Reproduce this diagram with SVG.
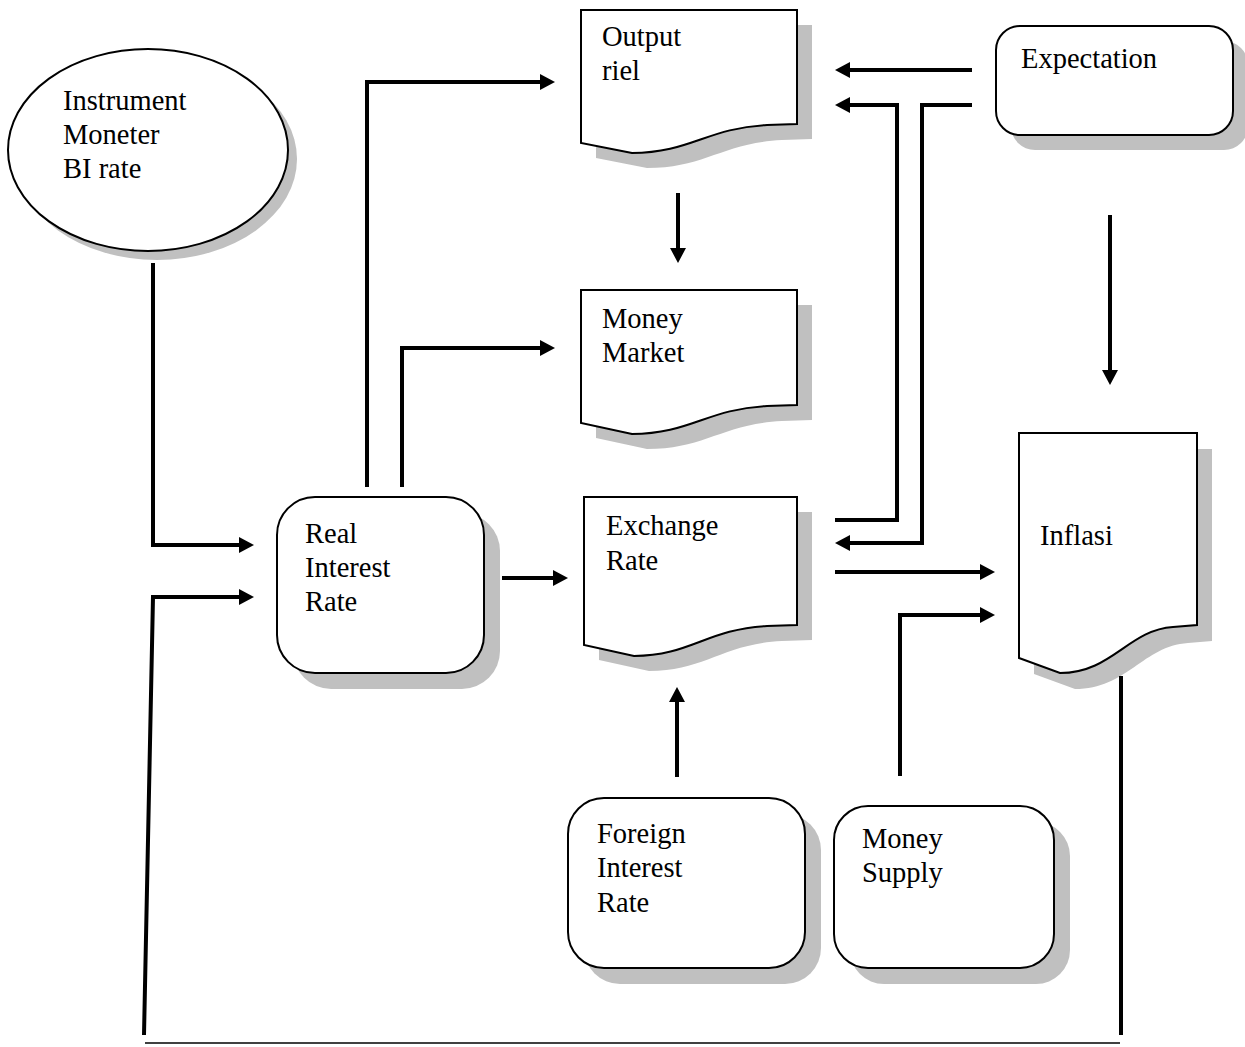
<svg xmlns="http://www.w3.org/2000/svg" width="1245" height="1047" viewBox="0 0 1245 1047">
<style>
.sh{fill:#c0c0c0;stroke:none}
.nd{fill:#fff;stroke:#000;stroke-width:2}
.t{font-family:"Liberation Serif","Times New Roman",serif;font-size:28.5px;fill:#000}
.c{fill:none;stroke:#000;stroke-width:4}
</style>
<defs>
<marker id="ah" markerUnits="userSpaceOnUse" markerWidth="16" markerHeight="16" refX="5" refY="8" orient="auto">
<path d="M0,0 L15,8 L0,16 Z" fill="#000"/>
</marker>
</defs>
<rect width="1245" height="1047" fill="#fff"/>

<g id="instrument">
<ellipse class="sh" cx="157" cy="159" rx="140" ry="101"/>
<ellipse class="nd" cx="148" cy="150" rx="140" ry="101"/>
<text class="t" x="63" y="110">Instrument</text>
<text class="t" x="63" y="144">Moneter</text>
<text class="t" x="63" y="178">BI rate</text>
</g>

<g id="output-riel">
<path class="sh" transform="translate(15,15)" d="M581,10 H797 V124 L767,125 C707,128 690,153 632,153 L581,143 Z"/>
<path class="nd" d="M581,10 H797 V124 L767,125 C707,128 690,153 632,153 L581,143 Z"/>
<text class="t" x="602" y="46">Output</text>
<text class="t" x="602" y="80">riel</text>
</g>

<g id="money-market">
<path class="sh" transform="translate(15,15)" d="M581,290 H797 V405 L767,406 C707,409 690,434 632,434 L581,423 Z"/>
<path class="nd" d="M581,290 H797 V405 L767,406 C707,409 690,434 632,434 L581,423 Z"/>
<text class="t" x="602" y="328">Money</text>
<text class="t" x="602" y="362">Market</text>
</g>

<g id="exchange-rate">
<path class="sh" transform="translate(15,15)" d="M584,497 H797 V625 L767,626 C707,629 690,656 634,656 L584,645 Z"/>
<path class="nd" d="M584,497 H797 V625 L767,626 C707,629 690,656 634,656 L584,645 Z"/>
<text class="t" x="606" y="535">Exchange</text>
<text class="t" x="606" y="570">Rate</text>
</g>

<g id="inflasi">
<path class="sh" transform="translate(15,16)" d="M1019,433 H1197 V625 L1173,627 C1128,630 1112,673 1060,673 L1019,658 Z"/>
<path class="nd" d="M1019,433 H1197 V625 L1173,627 C1128,630 1112,673 1060,673 L1019,658 Z"/>
<text class="t" x="1040" y="545">Inflasi</text>
</g>

<g id="expectation">
<rect class="sh" x="1011" y="41" width="237" height="109" rx="24"/>
<rect class="nd" x="996" y="26" width="237" height="109" rx="24"/>
<text class="t" x="1021" y="68">Expectation</text>
</g>

<g id="real-interest-rate">
<rect class="sh" x="293" y="513" width="207" height="176" rx="38"/>
<rect class="nd" x="277" y="497" width="207" height="176" rx="38"/>
<text class="t" x="305" y="543">Real</text>
<text class="t" x="305" y="577">Interest</text>
<text class="t" x="305" y="611">Rate</text>
</g>

<g id="foreign-interest-rate">
<rect class="sh" x="584" y="814" width="237" height="170" rx="36"/>
<rect class="nd" x="568" y="798" width="237" height="170" rx="36"/>
<text class="t" x="597" y="843">Foreign</text>
<text class="t" x="597" y="877">Interest</text>
<text class="t" x="597" y="912">Rate</text>
</g>

<g id="money-supply">
<rect class="sh" x="850" y="822" width="220" height="162" rx="34"/>
<rect class="nd" x="834" y="806" width="220" height="162" rx="34"/>
<text class="t" x="862" y="848">Money</text>
<text class="t" x="862" y="882">Supply</text>
</g>

<g id="connectors">
<path class="c" d="M153,263 V545 H244" marker-end="url(#ah)"/>
<path class="c" d="M144,1035 L153,597 H244" marker-end="url(#ah)"/>
<path class="c" d="M367,487 V82 H545" marker-end="url(#ah)"/>
<path class="c" d="M402,487 V348 H545" marker-end="url(#ah)"/>
<path class="c" d="M502,578 H558" marker-end="url(#ah)"/>
<path class="c" d="M678,193 V253" marker-end="url(#ah)"/>
<path class="c" d="M972,70 H845" marker-end="url(#ah)"/>
<path class="c" d="M835,520 H897 V105 H845" marker-end="url(#ah)"/>
<path class="c" d="M972,105 H922 V543 H845" marker-end="url(#ah)"/>
<path class="c" d="M835,572 H985" marker-end="url(#ah)"/>
<path class="c" d="M900,776 V615 H985" marker-end="url(#ah)"/>
<path class="c" d="M677,777 V697" marker-end="url(#ah)"/>
<path class="c" d="M1110,215 V375" marker-end="url(#ah)"/>
<path class="c" d="M1121,676 V1035"/>
<line x1="145" y1="1043" x2="1120" y2="1043" stroke="#000" stroke-width="1.5"/>
</g>
</svg>
